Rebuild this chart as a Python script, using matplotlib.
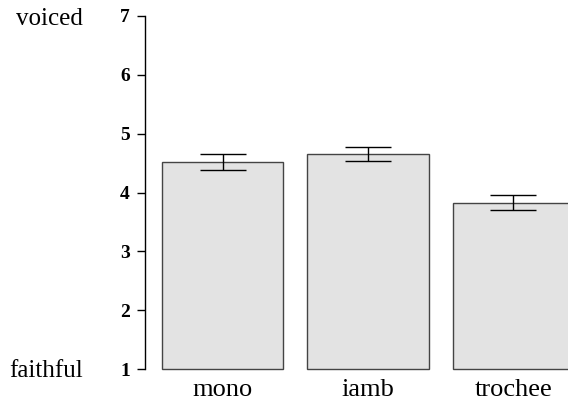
import numpy as np
import matplotlib
matplotlib.use("Agg")
import matplotlib.pyplot as plt

conditions = ["mono", "iamb", "trochee"]
means = [4.52, 4.65, 3.83]
err_low = [4.39, 4.53, 3.70]
err_high = [4.65, 4.78, 3.95]
yticks = [1, 2, 3, 4, 5, 6, 7]

plt.rcParams["font.family"] = ["Liberation Serif", "DejaVu Serif"]

fig = plt.figure(figsize=(5.68, 4.0), dpi=100)
# axes from pixel 145 (left) to figure edge; y range 0.97..7.03
ax = fig.add_axes([145 / 568, (400 - 370.8) / 400, 1 - 145 / 568, (370.8 - 14.2) / 400])

x = np.arange(len(conditions))
means_arr = np.array(means)
yerr = [means_arr - np.array(err_low), np.array(err_high) - means_arr]

ax.bar(x, means_arr - 1, bottom=1, width=0.832, color="#e3e3e3",
       edgecolor="#444444", linewidth=1.0)
ax.errorbar(x, means, yerr=yerr, fmt="none", ecolor="black", elinewidth=1.0,
            capsize=16.9, capthick=1.0)

ax.set_xlim(-0.533, 2.375)
ax.set_ylim(0.97, 7.03)
for s in ["top", "right", "bottom"]:
    ax.spines[s].set_visible(False)
ax.spines["left"].set_bounds(1, 7)
ax.spines["left"].set_linewidth(1.0)

ax.set_yticks(yticks)
ax.set_yticklabels([str(t) for t in yticks], fontsize=14, fontweight="bold")
ax.tick_params(axis="y", length=5.8, width=1.0, pad=5)
ax.set_xticks(x)
ax.set_xticklabels(conditions, fontsize=19)
ax.tick_params(axis="x", length=0, pad=6)

fig.text(83 / 568, 1 - 25 / 400, "voiced", ha="right", va="baseline", fontsize=18)
fig.text(83 / 568, 1 - 377 / 400, "faithful", ha="right", va="baseline", fontsize=18)

fig.savefig("out.png", dpi=100)
